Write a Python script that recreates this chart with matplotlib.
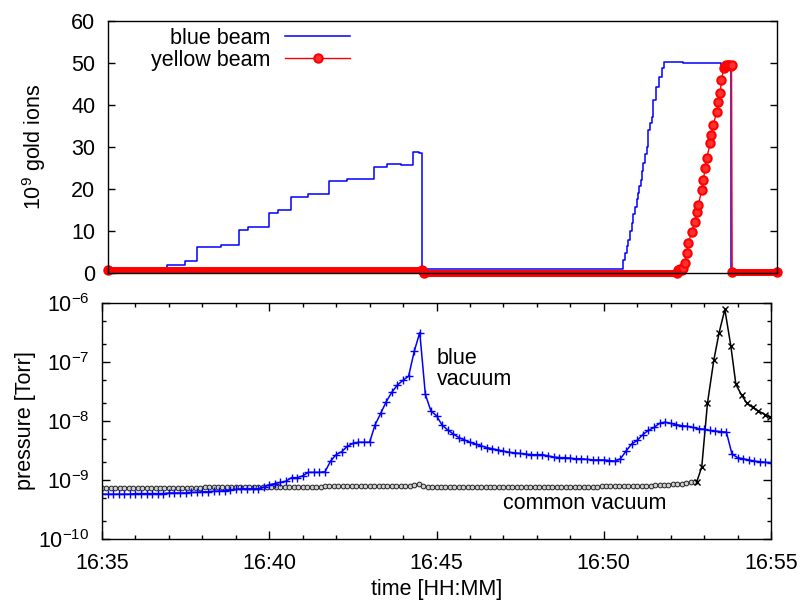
import numpy as np
import matplotlib
matplotlib.use("Agg")
import matplotlib.pyplot as plt
from matplotlib.ticker import FixedLocator, MultipleLocator, LogLocator, NullFormatter

plt.rcParams['font.family'] = ['Liberation Sans', 'DejaVu Sans']
plt.rcParams['mathtext.fontset'] = 'custom'
plt.rcParams['mathtext.rm'] = 'Liberation Sans'
plt.rcParams['mathtext.it'] = 'Liberation Sans:italic'
plt.rcParams['font.size'] = 15.5

# time axis: minutes after 16:35
time_ticks = [0, 5, 10, 15, 20]
time_labels = ["16:35", "16:40", "16:45", "16:50", "16:55"]

# beam intensity, 10^9 gold ions (value holds until the next reading)
blue_beam_t = [0.0, 1.76, 2.30, 2.66, 3.38, 3.92, 4.19, 4.82, 5.08, 5.46, 5.99,
               6.60, 7.15, 7.95, 8.34, 8.75, 9.12, 9.30, 9.39,
               15.41, 15.46, 15.51, 15.56, 15.61, 15.66, 15.71, 15.76, 15.81,
               15.85, 15.88, 15.92, 15.96, 16.00, 16.05, 16.10, 16.15, 16.20,
               16.25, 16.30, 16.38, 16.48, 16.55, 16.62, 17.2, 17.8,
               18.34, 18.62, 20.0]
blue_beam_v = [0.4, 1.9, 2.9, 6.2, 6.7, 10.2, 10.9, 14.2, 15.0, 18.1, 18.8,
               21.9, 22.4, 25.2, 25.9, 25.7, 28.8, 28.5, 1.0,
               3.0, 4.7, 6.5, 7.9, 10.0, 11.8, 14.0, 15.8, 17.6,
               19.0, 20.8, 22.1, 24.3, 26.1, 28.4, 30.1, 34.0, 35.8,
               37.2, 41.2, 44.4, 46.7, 48.7, 50.3, 50.1, 49.9,
               49.4, 0.3, 0.3]

yellow_beam_t = [0.0, 9.40, 9.44, 17.0, 17.05, 17.1, 17.15, 17.2, 17.25, 17.3,
                 17.35, 17.45, 17.55, 17.6, 17.65, 17.75, 17.8, 17.85, 17.9,
                 18.0, 18.04, 18.09, 18.2, 18.25, 18.3, 18.34, 18.41, 18.45,
                 18.49, 18.53, 18.57, 18.61, 18.64, 18.66, 20.0]
yellow_beam_v = [0.8, 0.8, 0.1, 0.1, 0.6, 1.0, 0.7, 1.2, 2.5, 4.7,
                 7.1, 9.8, 12.2, 14.6, 16.2, 19.8, 22.1, 24.9, 27.3,
                 30.9, 32.9, 35.2, 38.4, 40.8, 42.8, 46.0, 48.7, 49.3,
                 49.5, 49.6, 49.5, 49.4, 49.5, 0.2, 0.2]

# blue ring vacuum, log10(Torr), one reading every 10 s
blue_vac_log = [
    -9.24, -9.24, -9.24, -9.24, -9.24, -9.24,
    -9.23, -9.23, -9.23, -9.23, -9.23, -9.23,
    -9.22, -9.22, -9.22, -9.22, -9.21, -9.21,
    -9.20, -9.20, -9.19, -9.19, -9.18, -9.17,
    -9.16, -9.15, -9.15, -9.15, -9.15, -9.12,
    -9.08, -9.06, -9.04, -9.02, -8.96, -8.96,
    -8.93, -8.87, -8.87, -8.87, -8.86, -8.68,
    -8.57, -8.52, -8.43, -8.38, -8.36, -8.36,
    -8.36, -8.06, -7.87, -7.67, -7.51, -7.39,
    -7.31, -7.24, -6.82, -6.50, -7.55, -7.83,
    -7.91, -8.07, -8.15, -8.22, -8.28, -8.32,
    -8.36, -8.39, -8.42, -8.45, -8.47, -8.49,
    -8.51, -8.53, -8.54, -8.55, -8.56, -8.57,
    -8.57, -8.57, -8.59, -8.61, -8.62, -8.62,
    -8.63, -8.64, -8.64, -8.65, -8.66, -8.66,
    -8.66, -8.67, -8.68, -8.64, -8.51, -8.39,
    -8.33, -8.23, -8.16, -8.11, -8.04, -8.02,
    -8.04, -8.06, -8.08, -8.09, -8.11, -8.13,
    -8.14, -8.16, -8.17, -8.18, -8.19, -8.56,
    -8.62, -8.64, -8.66, -8.68, -8.69, -8.70,
    -8.71,
]
blue_vac_t = np.arange(len(blue_vac_log)) / 6.0

# common vacuum, log10(Torr), one reading every 8 s
common_vac_log = [
    -9.13, -9.13, -9.13, -9.13, -9.13, -9.13, -9.13, -9.13, -9.13, -9.13, -9.13, -9.13, -9.13, -9.13, -9.13,
    -9.13, -9.13, -9.13, -9.13, -9.13, -9.13, -9.13, -9.13, -9.12, -9.12, -9.12, -9.12, -9.12, -9.12, -9.12,
    -9.12, -9.12, -9.12, -9.12, -9.12, -9.12, -9.12, -9.12, -9.12, -9.12, -9.12, -9.12, -9.12, -9.12, -9.12,
    -9.12, -9.12, -9.12, -9.12, -9.12, -9.11, -9.11, -9.11, -9.11, -9.11, -9.11, -9.11, -9.11, -9.11, -9.11,
    -9.11, -9.11, -9.11, -9.11, -9.11, -9.11, -9.11, -9.11, -9.11, -9.10, -9.09, -9.07, -9.11, -9.12, -9.12,
    -9.12, -9.12, -9.12, -9.12, -9.12, -9.12, -9.12, -9.12, -9.12, -9.12, -9.12, -9.12, -9.12, -9.12, -9.12,
    -9.12, -9.12, -9.12, -9.12, -9.12, -9.12, -9.12, -9.12, -9.12, -9.12, -9.12, -9.12, -9.12, -9.12, -9.12,
    -9.12, -9.12, -9.12, -9.12, -9.12, -9.12, -9.12, -9.11, -9.11, -9.11, -9.11, -9.11, -9.11, -9.11, -9.11,
    -9.11, -9.11, -9.10, -9.10, -9.09, -9.09, -9.08, -9.08, -9.07, -9.07, -9.06, -9.05, -9.04, -9.03,
]
common_vac_t = np.arange(len(common_vac_log)) * 8 / 60.0

# yellow ring vacuum after the dump, log10(Torr)
yellow_vac_t = [17.78, 17.93, 18.10, 18.29, 18.45, 18.62, 18.80, 18.95, 19.12,
                19.27, 19.45, 19.62, 19.82, 19.97]
yellow_vac_log = [-9.03, -8.78, -7.70, -6.97, -6.50, -6.11, -6.73, -7.38, -7.56,
                  -7.69, -7.77, -7.83, -7.89, -7.94]

fig = plt.figure(figsize=(8.01, 6.0), dpi=100)
ax1 = fig.add_axes([108 / 801, 1 - 273 / 600, 669 / 801, 252 / 600])
ax2 = fig.add_axes([102 / 801, 1 - 539 / 600, 669 / 801, 236 / 600])

# --- beam intensity ---
ax1.plot(blue_beam_t, blue_beam_v, color='#0000ff', lw=1.1,
         drawstyle='steps-post', label='blue beam')
ax1.plot(yellow_beam_t, yellow_beam_v, color='#ff0000', lw=1.0, marker='o',
         ms=6, mec='#ff0000', mfc='#ff3030', mew=1.5, clip_on=False,
         label='yellow beam')
# stretches of dense readings merge into a solid band
for i in range(len(yellow_beam_t) - 1):
    if yellow_beam_v[i] == yellow_beam_v[i + 1]:
        ax1.plot(yellow_beam_t[i:i + 2], yellow_beam_v[i:i + 2], color='#ff0000',
                 lw=5, solid_capstyle='round', clip_on=False)

ax1.set_xlim(0, 20)
ax1.set_ylim(0, 60)
ax1.yaxis.set_major_locator(MultipleLocator(10))
ax1.tick_params(axis='y', which='both', direction='in', left=True, right=True,
                length=5, width=1, pad=9)
ax1.tick_params(axis='x', which='both', bottom=False, top=False, labelbottom=False)
ax1.set_ylabel(r'10$^9$ gold ions')
ax1.yaxis.set_label_coords(-0.090, 0.5)
ax1.legend(loc='upper right', bbox_to_anchor=(0.368, 0.99), frameon=False,
           markerfirst=False, handlelength=3.0, handletextpad=0.7,
           labelspacing=0.05, borderpad=0.2, borderaxespad=0)

# --- vacuum ---
ax2.plot(common_vac_t, np.power(10.0, common_vac_log), color='black', lw=1.0,
         marker='o', ms=3.4, mfc='#d0d0d0', mec='#222222', mew=0.7)
ax2.plot(yellow_vac_t, np.power(10.0, yellow_vac_log), color='black', lw=1.1,
         marker='x', ms=5, mew=1.0)
ax2.plot(blue_vac_t, np.power(10.0, blue_vac_log), color='#0000ff', lw=1.1,
         marker='+', ms=6, mew=1.0)

ax2.set_yscale('log')
ax2.set_ylim(1e-10, 1e-6)
ax2.set_xlim(0, 20)
ax2.xaxis.set_major_locator(FixedLocator(time_ticks))
ax2.set_xticklabels(time_labels)
ax2.xaxis.set_minor_locator(MultipleLocator(1))
ax2.yaxis.set_major_locator(LogLocator(base=10, numticks=10))
ax2.yaxis.set_minor_locator(LogLocator(base=10, subs=[2.0, 5.0], numticks=10))
ax2.yaxis.set_minor_formatter(NullFormatter())
ax2.tick_params(which='both', direction='in', top=True, right=True, width=1)
ax2.tick_params(which='major', length=6)
ax2.tick_params(which='minor', length=3)
ax2.tick_params(axis='y', pad=9)
ax2.tick_params(axis='x', pad=10)
ax2.set_ylabel('pressure [Torr]')
ax2.yaxis.set_label_coords(-0.098, 0.5)
ax2.set_xlabel('time [HH:MM]', labelpad=4)

ax2.text(10.0, 10 ** -6.77, 'blue\nvacuum', ha='left', va='top', linespacing=0.95)
ax2.text(12.0, 10 ** -9.49, 'common vacuum', ha='left', va='baseline')

for ax in (ax1, ax2):
    for s in ax.spines.values():
        s.set_linewidth(1.0)

fig.savefig('out.png', dpi=100)
